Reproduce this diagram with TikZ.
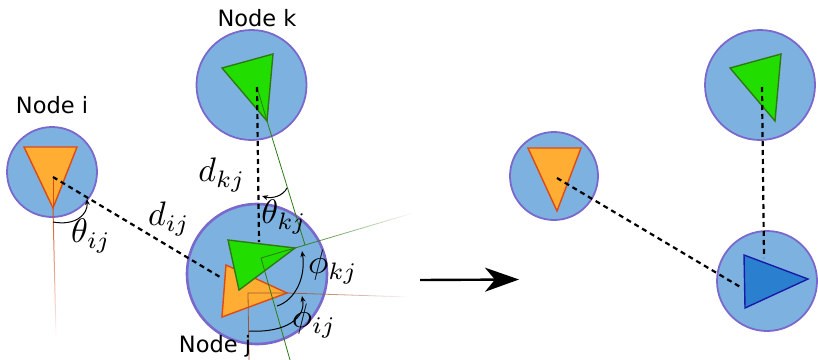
\documentclass[tikz,border=0pt]{standalone}
\usepackage{fontspec}
\newfontfamily\lab{DejaVu Sans}
\usetikzlibrary{arrows.meta,fadings}
\definecolor{cfill}{HTML}{7DB2E0}
\definecolor{cedge}{HTML}{7A68CC}
\definecolor{ofill}{HTML}{FFAE33}
\definecolor{oedge}{HTML}{E04A10}
\definecolor{gfill}{HTML}{22DD00}
\definecolor{gedge}{HTML}{2E7A12}
\definecolor{bfill}{HTML}{2A7FCF}
\definecolor{bedge}{HTML}{1A1AA8}
\definecolor{brn}{HTML}{A05535}
\tikzset{
  robot/.style={circle,draw=cedge,fill=cfill,line width=1.8pt,inner sep=0pt},
  otri/.style={fill=ofill,draw=oedge,line width=1.4pt,line join=miter},
  gtri/.style={fill=gfill,draw=gedge,line width=1.4pt,line join=miter},
  btri/.style={fill=bfill,draw=bedge,line width=1.4pt,line join=miter},
  dist/.style={dashed,dash pattern=on 5pt off 4pt,line width=2.2pt},
  angarc/.style={line width=1pt,-{Stealth[length=6pt,width=5pt]}},
  nlabel/.style={font=\lab\fontsize{22.5}{27}\selectfont,inner sep=0pt},
  mlabel/.style={font=\normalsize,scale=3.4,inner sep=0pt}
}
\begin{document}
\begin{tikzpicture}[x=1pt,y=-1pt]
\useasboundingbox (0,0) rectangle (818,359);
% ---- left scene ----
\node[robot,minimum size=90pt] (ni) at (52,172) {};
\node[robot,minimum size=110pt] (nk) at (251.5,85) {};
\node[robot,minimum size=140pt,line width=2.6pt] (nj) at (257,274) {};
% node i
\coordinate (ic) at (53,177);
\coordinate (itip) at (53,208);
\draw[otri] (24,147) -- (77,147) -- (itip) -- cycle;
\draw[oedge,line width=0.9pt] (ic) -- (itip);
\coordinate (iend) at (56,337);
\draw[oedge!85!gray,line width=1pt,path fading=south] (itip) -- (iend);
% node k
\coordinate (kc) at (257,87);
\coordinate (ktip) at (267,121);
\draw[gtri] (222,68) -- (273,54) -- (ktip) -- cycle;
\coordinate (kend) at (305,245);
\draw[gedge,line width=0.8pt] (kc) -- (ktip) -- (kend);
% node j
\coordinate (jo) at (248,293);
\coordinate (jotip) at (287,293);
\draw[otri] (226,265) -- (jotip) -- (222,317) -- cycle;
\coordinate (jg) at (261,258);
\coordinate (jgtip) at (295,248);
\draw[gtri] (228,240) -- (jgtip) -- (239,290) -- cycle;
\coordinate (jgdown) at (290,360);
\draw[gedge,line width=0.8pt] (jgtip) -- (jg) -- (jgdown);
\coordinate (jgend) at (413,213);
\draw[gedge,line width=0.8pt,path fading=east] (jgtip) -- (jgend);
\coordinate (jodown) at (249,360);
\draw[brn,line width=0.8pt] (jotip) -- (jo) -- (jodown);
\coordinate (joend) at (410,297);
\draw[brn,line width=0.8pt,path fading=east] (jotip) -- (joend);
% distances
\coordinate (jd1) at (220,277);
\coordinate (jd2) at (259,242);
\draw[dist] (ic) -- (jd1);
\draw[dist] (kc) -- (jd2);
% angle arcs
\draw[angarc] (53,222) .. controls (75,226) and (88,215) .. (87,199);
\draw[angarc] (287,188) .. controls (283,196) and (272,199) .. (262,196);
\draw[angarc] (277,306) .. controls (296,300) and (306,276) .. (302,251);
\draw[angarc] (249,331) .. controls (286,333) and (306,318) .. (302,296);
% labels
\node[nlabel] (li) at (52,105) {Node i};
\node[nlabel] (lk) at (257,18) {Node k};
\node[nlabel] (lj) at (215,346) {Node j};
\node[mlabel] (tij) at (91,236) {$\theta_{ij}$};
\node[mlabel] (dij) at (169,219) {$d_{ij}$};
\node[mlabel] (dkj) at (222,175) {$d_{kj}$};
\node[mlabel] (tkj) at (284,217) {$\theta_{kj}$};
\node[mlabel] (pkj) at (333,267) {$\phi_{kj}$};
\node[mlabel] (pij) at (314,321) {$\phi_{ij}$};
% ---- big arrow ----
\coordinate (a1) at (420,280);
\coordinate (a2) at (519,279.5);
\draw[line width=2.4pt,-{Stealth[length=34pt,width=24pt,inset=10pt]}] (a1) -- (a2);
% ---- right scene ----
\node[robot,minimum size=88pt] (ri) at (554,176) {};
\node[robot,minimum size=110pt] (rk) at (760,85) {};
\node[robot,minimum size=100pt] (rj) at (767,281) {};
\coordinate (ric) at (557,178);
\draw[otri] (528,148) -- (581,148) -- (557,211) -- cycle;
\coordinate (rkc) at (762,87);
\draw[gtri] (730,68) -- (781,54) -- (775,121) -- cycle;
\draw[btri] (744,255) -- (808,279) -- (745,308) -- cycle;
\coordinate (rjd1) at (742,288);
\coordinate (rjd2) at (764,258);
\draw[dist] (ric) -- (rjd1);
\draw[dist] (rkc) -- (rjd2);
\end{tikzpicture}
\end{document}
